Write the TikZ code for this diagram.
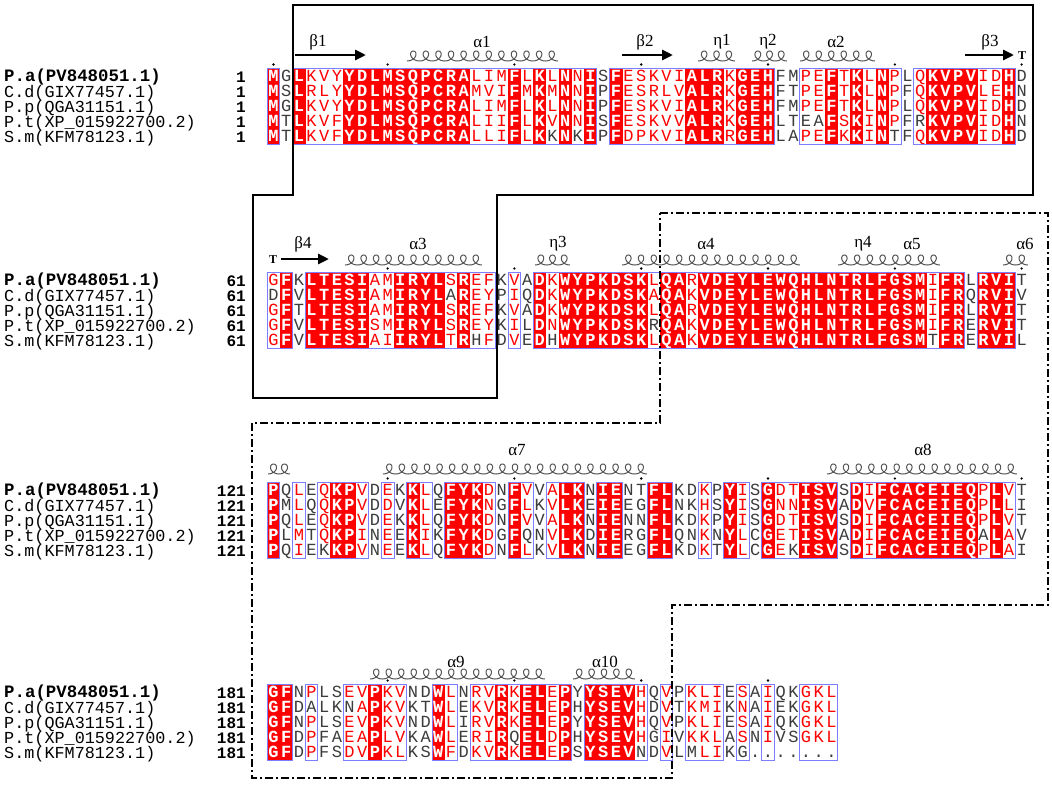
\documentclass[tikz,border=0pt]{standalone}
\usepackage{fontspec}
\setmainfont{Liberation Serif}
\newfontfamily\monof{Liberation Mono}
\usetikzlibrary{arrows.meta}
\definecolor{espred}{RGB}{255,0,0}
\definecolor{espblue}{RGB}{125,125,255}
\definecolor{espgrey}{RGB}{60,60,60}
\definecolor{helixgrey}{RGB}{85,85,85}
\newcommand\colpitch{12.68}
\newcommand\colzero{273.5}
\newcommand\rowpitch{15}
\tikzset{
  res/.style={inner sep=0pt, anchor=base, font=\monof\fontsize{17}{17}\selectfont},
  resS/.style={res, text=white, font=\monof\bfseries\fontsize{17}{17}\selectfont},
  resH/.style={res, text=espred},
  resK/.style={res, text=espgrey},
  resN/.style={res, text=espgrey},
  espbox/.style={draw=espblue, line width=0.9pt},
  seqname/.style={inner sep=0pt, anchor=base west, font=\monof\fontsize{16.8}{16.8}\selectfont},
  seqnamebold/.style={seqname, font=\monof\bfseries\fontsize{17.4}{17.4}\selectfont},
  seqnum/.style={inner sep=0pt, anchor=base east, font=\monof\bfseries\fontsize{16}{16}\selectfont},
  sslabel/.style={inner sep=0pt, font=\fontsize{17}{17}\selectfont},
  turnT/.style={inner sep=0pt, font=\bfseries\fontsize{12}{12}\selectfont},
  ssarrow/.style={line width=2.8pt, -{Triangle[length=11pt,width=10pt]}},
  helixline/.style={draw=helixgrey, line width=1pt},
  solidframe/.style={draw=black, line width=1.8pt},
  dashframe/.style={draw=black, line width=1.8pt, dash pattern=on 8pt off 3pt on 2pt off 3pt},
}
\newcommand\putres[2]{%
  \pgfmathsetmacro\yy{\blocky+#2*\rowpitch+5.8}%
  \if\ty R\def\rstyle{resS}\else
    \if\ty h%
      \ifnum`#1>90 \def\rstyle{resK}\else
        \ifnum`#1<65 \def\rstyle{resK}\else\def\rstyle{resH}\fi
      \fi
    \else\def\rstyle{resN}\fi
  \fi
  \node[\rstyle] (b\blockname-\ci-#2) at (\xx,\yy) {\uppercase{#1}};%
}
\def\fivelet#1#2#3#4#5{\putres{#1}{0}\putres{#2}{1}\putres{#3}{2}\putres{#4}{3}\putres{#5}{4}}
\newcommand\drawblock[4]{%
  \def\blockname{#1}\def\blocky{#2}%
  \pgfmathsetmacro\boxtop{#2-8}\pgfmathsetmacro\boxbot{#2+4*\rowpitch+8}%
  \foreach[count=\ci] \ty/\rs in {#3}{%
    \pgfmathsetmacro\xx{\colzero+(\ci-1)*\colpitch}%
    \if\ty R\fill[espred] ({\xx-\colpitch/2-0.3},\boxtop) rectangle ({\xx+\colpitch/2+0.3},\boxbot);\fi
    \expandafter\fivelet\rs
  }%
  \foreach \a/\b in {#4}{\draw[espbox] ({\colzero+(\a-1.5)*\colpitch},\boxtop) rectangle ({\colzero+(\b-0.5)*\colpitch},\boxbot);}%
}
\newcommand\seqnames[3]{%
  \node[seqnamebold] (nm#1a) at (4,{#2+5.5}) {P.a(PV848051.1)};
  \node[seqname] (nm#1b) at (4,{#2+\rowpitch+6}) {C.d(GIX77457.1)};
  \node[seqname] (nm#1c) at (4,{#2+2*\rowpitch+6}) {P.p(QGA31151.1)};
  \node[seqname] (nm#1d) at (4,{#2+3*\rowpitch+6}) {P.t(XP\_015922700.2)};
  \node[seqname] (nm#1e) at (4,{#2+4*\rowpitch+6}) {S.m(KFM78123.1)};
  \foreach \r in {0,...,4}{\node[seqnum] (nu#1-\r) at (246,{#2+\r*\rowpitch+6}) {#3};}
}
\newcommand\tickdots[2]{% #1 R1, #2 list of columns
  \foreach \d in {#2}{\fill ({\colzero+(\d-1)*\colpitch},{#1-11.5}) circle (1.3);}
}
\newcommand\sshelix[3]{%
  \pgfmathtruncatemacro\nl{round((#2-#1)/12.5)}%
  \pgfmathsetmacro\RR{(#2-#1)/(\nl*2*pi)}%
  \pgfmathsetmacro\tend{(2*\nl+1)*pi}%
  \pgfmathtruncatemacro\ns{24*\nl+1}%
  \draw[helixline] plot[smooth, domain=3.14159:\tend, samples=\ns] ({#1+\RR*(\x-pi)-5.5*sin(\x r)}, {#3-5*(cos(\x r)+1)});%
}
\begin{document}
\begin{tikzpicture}[x=1pt,y=-1pt]
\fill[white] (0,0) rectangle (1052,809);
\useasboundingbox (0,0) rectangle (1052,809);
% ---------------- block 1
\def\Ra{76}
\seqnames{1}{\Ra}{1}
\drawblock{1}{\Ra}{R/MMMMM,n/GSGTT,R/LLLLL,h/KRKKK,h/VLVVV,h/YYYFF,R/YYYYY,R/DDDDD,R/LLLLL,R/MMMMM,
R/SSSSS,R/QQQQQ,R/PPPPP,R/CCCCC,R/RRRRR,R/AAAAA,h/LMLLL,h/IVIIL,h/MIMII,R/FFFFF,
h/LMLLL,R/KKKKK,h/LMLVk,R/NNNNN,h/NNNNk,R/IIIII,n/SPPSP,R/FFFFF,h/EEEED,h/SSSSP,
h/KRKKK,h/VLVVV,h/IVIVI,R/AAAAA,R/LLLLL,R/RRRRR,h/KKKKR,R/GGGGG,R/EEEEE,R/HHHHH,
n/FFFLL,n/MTMTA,h/PPPeP,h/EEEaE,R/FFFFF,h/TTTSK,R/KKKKK,h/LLLII,R/NNNNN,h/PPPPt,
n/LFLFF,h/QQQrQ,R/KKKKK,R/VVVVV,R/PPPPP,R/VVVVV,h/ILIII,h/DEDDD,R/HHHHH,n/DNDND}{1/1,3/26,28/40,43/50,52/59}
\tickdots{\Ra}{1,10,20,30,40,50,60}
\node[sslabel] (lb1) at (318,{\Ra-34}) {β1};
\coordinate (b1s) at (295,{\Ra-21}); \coordinate (b1e) at (366,{\Ra-21});
\draw[ssarrow] (b1s) -- (b1e);
\node[sslabel] (la1) at (482,{\Ra-34}) {α1};
\sshelix{407}{558}{\Ra-15}
\node[sslabel] (lb2) at (645,{\Ra-34}) {β2};
\coordinate (b2s) at (622,{\Ra-21}); \coordinate (b2e) at (673,{\Ra-21});
\draw[ssarrow] (b2s) -- (b2e);
\node[sslabel] (le1) at (722,{\Ra-34}) {η1};
\sshelix{698}{735}{\Ra-15}
\node[sslabel] (le2) at (768,{\Ra-34}) {η2};
\sshelix{752}{787}{\Ra-15}
\node[sslabel] (la2) at (836,{\Ra-34}) {α2};
\sshelix{800}{875}{\Ra-15}
\node[sslabel] (lb3) at (990,{\Ra-34}) {β3};
\coordinate (b3s) at (965,{\Ra-21}); \coordinate (b3e) at (1014,{\Ra-21});
\draw[ssarrow] (b3s) -- (b3e);
\node[turnT] (t1) at (1022,{\Ra-20}) {T};
% ---------------- block 2
\def\Rb{280}
\seqnames{2}{\Rb}{61}
\drawblock{2}{\Rb}{h/GdGGG,R/FFFFF,n/KVTVV,R/LLLLL,R/TTTTT,R/EEEEE,R/SSSSS,R/IIIII,h/AAASA,h/MMMMI,
R/IIIII,R/RRRRR,R/YYYYY,R/LLLLL,h/SaSST,R/RRRRR,h/EEEEh,h/FYFYF,n/KPKKD,h/VIVIV,
n/AQALE,R/DDDDD,h/KKKNh,R/WWWWW,R/YYYYY,R/PPPPP,R/KKKKK,R/DDDDD,R/SSSSS,R/KKKKK,
h/LALrL,R/QQQQQ,R/AAAAA,h/RKRKK,R/VVVVV,R/DDDDD,R/EEEEE,R/YYYYY,R/LLLLL,R/EEEEE,
R/WWWWW,R/QQQQQ,R/HHHHH,R/LLLLL,R/NNNNN,R/TTTTT,R/RRRRR,R/LLLLL,R/FFFFF,R/GGGGG,
R/SSSSS,R/MMMMM,h/IIIIt,R/FFFFF,R/RRRRR,n/LQLEE,R/RRRRR,R/VVVVV,R/IIIII,n/TVTTL}{1/2,4/18,20/20,22/55,57/59}
\tickdots{\Rb}{10,20,30,40,50,60}
\node[turnT] (t2) at (273,{\Rb-20}) {T};
\node[sslabel] (lb4) at (303,{\Rb-36}) {β4};
\coordinate (b4s) at (281,{\Rb-21}); \coordinate (b4e) at (329,{\Rb-21});
\draw[ssarrow] (b4s) -- (b4e);
\node[sslabel] (la3) at (418,{\Rb-36}) {α3};
\sshelix{345}{482}{\Rb-15}
\node[sslabel] (le3) at (558,{\Rb-36}) {η3};
\sshelix{535}{570}{\Rb-15}
\node[sslabel] (la4) at (706,{\Rb-36}) {α4};
\sshelix{622}{800}{\Rb-15}
\node[sslabel] (le4) at (863,{\Rb-36}) {η4};
\node[sslabel] (la5) at (912,{\Rb-36}) {α5};
\sshelix{838}{940}{\Rb-15}
\node[sslabel] (la6) at (1025,{\Rb-36}) {α6};
\sshelix{1003}{1028}{\Rb-15}
% ---------------- block 3
\def\Rc{490}
\seqnames{3}{\Rc}{121}
\drawblock{3}{\Rc}{R/PPPPP,n/QMQLQ,h/LLLMI,n/EQETE,h/QQQQk,R/KKKKK,R/PPPPP,h/VVVIV,n/DDDNN,h/EDEEE,
n/KVKEE,R/KKKKK,h/LLLIL,n/QEQKQ,R/FFFFF,R/YYYYY,R/KKKKK,h/DNDDD,n/NGNGN,R/FFFFF,
h/VLVqL,n/VKVNK,h/AVAVV,R/LLLLL,R/KKKKK,n/NENDN,R/IIIII,R/EEEEE,n/NENRE,n/TGNGG,
R/FFFFF,R/LLLLL,n/KNKQK,n/DKDND,h/KHKKK,n/PSPNT,R/YYYYY,h/IIILL,n/SSSCC,R/GGGGG,
h/DNDEE,h/TNTTk,R/IIIII,R/SSSSS,R/VVVVV,n/SASAS,R/DDDDD,h/IVIII,R/FFFFF,R/CCCCC,
R/AAAAA,R/CCCCC,R/EEEEE,R/IIIII,R/EEEEE,R/QQQQQ,h/PPPaP,R/LLLLL,h/VLVAA,n/TITVI}{1/1,3/3,5/8,10/10,12/13,15/18,20/21,23/25,27/28,31/32,35/35,37/38,40/45,47/59}
\tickdots{\Rc}{10,20,30,40,50,60}
\sshelix{268}{290}{\Rc-16}
\node[sslabel] (la7) at (517,{\Rc-40}) {α7};
\sshelix{383}{647}{\Rc-16}
\node[sslabel] (la8) at (923,{\Rc-40}) {α8};
\sshelix{827}{1017}{\Rc-16}
% ---------------- block 4
\def\Rd{692}
\seqnames{4}{\Rd}{181}
\drawblock{4}{\Rd}{R/GGGGG,R/FFFFF,n/NDNDD,h/PaPPP,n/LLLFF,n/SKSAS,h/EnEED,h/VAVAV,R/PPPPP,h/KKKLK,
h/VVVVL,n/NKNKK,n/DTDAS,R/WWWWW,h/LLLLF,n/NEIED,h/RKRRK,h/VVVIV,R/RRRRR,h/KKKqK,
R/EEEEE,R/LLLLL,h/EEEDE,R/PPPPP,n/YHYHS,R/YYYYY,R/SSSSS,R/EEEEE,R/VVVVV,h/HHHHn,
n/QDQGD,h/VVVIV,n/PTPVL,h/KKKKm,h/LMLKL,h/IIILI,n/EKEAK,h/SNSSg,n/AAAN.,h/IIII.,
n/QEQV.,n/KKKS.,h/GGGG.,h/KKKK.,h/LLLL.}{1/2,4/4,7/11,14/15,17/24,26/30,32/32,34/36,38/38,40/40,43/45}
\tickdots{\Rd}{10,20,30,40}
\node[sslabel] (la9) at (456,{\Rd-30}) {α9};
\sshelix{370}{545}{\Rd-13}
\node[sslabel] (la10) at (605,{\Rd-30}) {α10};
\sshelix{573}{635}{\Rd-13}
% ---------------- frames
\draw[solidframe] (293,5) -- (1033,5) -- (1033,195) -- (497,195) -- (497,398) -- (253,398) -- (253,195) -- (293,195) -- cycle;
\draw[dashframe] (660,213) -- (1048,213) -- (1048,605) -- (672,605) -- (672,778) -- (252,778) -- (252,423) -- (660,423) -- cycle;
\end{tikzpicture}
\end{document}
